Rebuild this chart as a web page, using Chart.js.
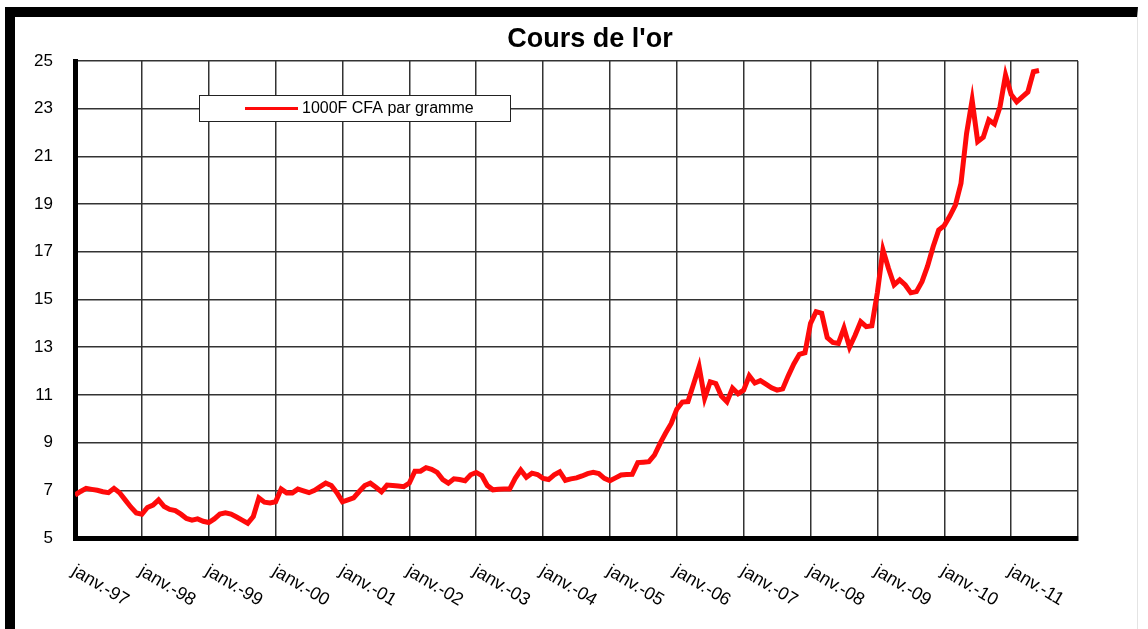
<!DOCTYPE html>
<html>
<head>
<meta charset="utf-8">
<title>Cours de l'or</title>
<script src="https://cdn.jsdelivr.net/npm/chart.js@4.4.1/dist/chart.umd.min.js"></script>
<style>
	html, body { margin: 0; padding: 0; background: #fff; }
	#wrap { position: absolute; left: 0; top: 0; width: 1148px; height: 629px; }
	#frame {
		position: absolute; left: 5px; top: 7px; width: 1133px; height: 622px;
		border-top: 10px solid #000; border-left: 10px solid #000;
		border-right: 1px solid #e4e4e4; box-sizing: border-box; pointer-events: none;
	}
</style>
</head>
<body>
<div id="wrap"><canvas id="gold-chart"></canvas></div>
<div id="frame"></div>
<script>
(function() {
	"use strict";

	var TITLE = "Cours de l'or";
	var SERIES_LABEL = "1000F CFA par gramme";

	// one label per january, 1997 .. 2011
	var xLabels = ["janv.-97", "janv.-98", "janv.-99", "janv.-00", "janv.-01", "janv.-02", "janv.-03",
		"janv.-04", "janv.-05", "janv.-06", "janv.-07", "janv.-08", "janv.-09", "janv.-10", "janv.-11"];

	// monthly values
	var y1997 = [6.8, 6.95, 7.08, 7.04, 7.0, 6.94, 6.9, 7.08, 6.9, 6.6, 6.3, 6.05];
	var y1998 = [6.0, 6.28, 6.38, 6.6, 6.32, 6.2, 6.15, 6.0, 5.82, 5.75, 5.8, 5.7];
	var y1999 = [5.65, 5.8, 6.0, 6.06, 6.0, 5.88, 5.75, 5.62, 5.9, 6.68, 6.5, 6.47];
	var y2000 = [6.52, 7.05, 6.89, 6.89, 7.05, 6.98, 6.9, 7.0, 7.15, 7.3, 7.2, 6.9];
	var y2001 = [6.52, 6.6, 6.68, 6.95, 7.2, 7.3, 7.13, 6.94, 7.22, 7.2, 7.18, 7.15];
	var y2002 = [7.3, 7.8, 7.8, 7.95, 7.88, 7.75, 7.45, 7.3, 7.48, 7.45, 7.4, 7.65];
	var y2003 = [7.75, 7.62, 7.2, 7.02, 7.04, 7.05, 7.05, 7.5, 7.85, 7.55, 7.72, 7.66];
	var y2004 = [7.5, 7.45, 7.65, 7.78, 7.42, 7.48, 7.52, 7.6, 7.7, 7.75, 7.7, 7.5];
	var y2005 = [7.4, 7.52, 7.64, 7.66, 7.67, 8.16, 8.18, 8.2, 8.48, 8.97, 9.4, 9.8];
	var y2006 = [10.4, 10.7, 10.72, 11.45, 12.18, 10.86, 11.55, 11.48, 10.95, 10.71, 11.28, 11.05];
	var y2007 = [11.2, 11.8, 11.5, 11.6, 11.45, 11.3, 11.2, 11.25, 11.8, 12.3, 12.7, 12.77];
	var y2008 = [14.0, 14.49, 14.42, 13.4, 13.2, 13.16, 13.8, 13.0, 13.5, 14.07, 13.86, 13.9];
	var y2009 = [15.3, 17.08, 16.3, 15.61, 15.82, 15.61, 15.28, 15.33, 15.75, 16.4, 17.21, 17.91];
	var y2010 = [18.1, 18.5, 18.96, 19.87, 21.96, 23.36, 21.62, 21.8, 22.53, 22.36, 23.08, 24.41];
	var y2011 = [23.6, 23.29, 23.5, 23.7, 24.55, 24.6];

	var values = [].concat(y1997, y1998, y1999, y2000, y2001, y2002, y2003, y2004,
		y2005, y2006, y2007, y2008, y2009, y2010, y2011);

	var FONT = "'Liberation Sans', Arial, sans-serif";

	var points = [];
	for (var i = 0; i < values.length; i++) {
		points.push({ x: i, y: values[i] });
	}

	// title sits a bit right of the plot centre in the original
	var titleText = {
		id: "titleText",
		afterDraw: function(chart) {
			var ctx = chart.ctx;
			ctx.save();
			ctx.font = "bold 27px " + FONT;
			ctx.fillStyle = "#000";
			ctx.textAlign = "center";
			ctx.textBaseline = "middle";
			ctx.fillText(TITLE, 590, 40);
			ctx.restore();
		}
	};

	// rotated january labels under the x axis
	var xTickText = {
		id: "xTickText",
		afterDraw: function(chart) {
			var ctx = chart.ctx;
			var sx = chart.scales.x;
			ctx.save();
			ctx.font = "18px " + FONT;
			ctx.fillStyle = "#000";
			ctx.textAlign = "left";
			ctx.textBaseline = "top";
			for (var i = 0; i < xLabels.length; i++) {
				var px = sx.getPixelForValue(i * 12);
				ctx.save();
				ctx.translate(px + 3, chart.chartArea.bottom + 24);
				ctx.rotate(31 * Math.PI / 180);
				ctx.fillText(xLabels[i], 0, 0);
				ctx.restore();
			}
			ctx.restore();
		}
	};

	// small boxed legend inside the plot
	var legendBox = {
		id: "legendBox",
		afterDraw: function(chart) {
			var ctx = chart.ctx;
			var ds = chart.data.datasets[0];
			ctx.save();
			ctx.fillStyle = "#fff";
			ctx.fillRect(199.5, 95.5, 311, 26);
			ctx.strokeStyle = "#222";
			ctx.lineWidth = 1;
			ctx.strokeRect(199.5, 95.5, 311, 26);
			ctx.strokeStyle = ds.borderColor;
			ctx.lineWidth = 3;
			ctx.beginPath();
			ctx.moveTo(245, 108.5);
			ctx.lineTo(298, 108.5);
			ctx.stroke();
			ctx.fillStyle = "#000";
			ctx.font = "16px " + FONT;
			ctx.textBaseline = "middle";
			ctx.fillText(ds.label, 302, 109);
			ctx.restore();
		}
	};

	document.addEventListener("DOMContentLoaded", function() {
		var ctx = document.getElementById("gold-chart").getContext("2d");

		new Chart(ctx, {
			type: "line",
			data: {
				datasets: [{
					label: SERIES_LABEL,
					data: points,
					borderColor: "#ff0a0a",
					borderWidth: 5,
					pointRadius: 0,
					tension: 0,
					fill: false
				}]
			},
			options: {
				responsive: true,
				maintainAspectRatio: false,
				animation: false,
				layout: { padding: { left: 0, right: 70, top: 61, bottom: 0 } },
				plugins: {
					legend: { display: false },
					tooltip: { enabled: false },
					title: { display: false }
				},
				scales: {
					x: {
						type: "linear",
						min: 0,
						max: 180,
						afterFit: function(scale) { scale.height = 91; },
						ticks: { display: false, stepSize: 12 },
						grid: { color: "#333", lineWidth: 1.5, drawTicks: false },
						border: { display: true, color: "#000", width: 5 }
					},
					y: {
						min: 5,
						max: 25,
						afterFit: function(scale) { scale.width = 75; },
						ticks: {
							stepSize: 2,
							padding: 22,
							color: "#000",
							font: { family: FONT, size: 17 }
						},
						grid: { color: "#333", lineWidth: 1.5, drawTicks: false },
						border: { display: true, color: "#000", width: 5 }
					}
				}
			},
			plugins: [titleText, xTickText, legendBox]
		});
	});
})();
</script>
</body>
</html>
